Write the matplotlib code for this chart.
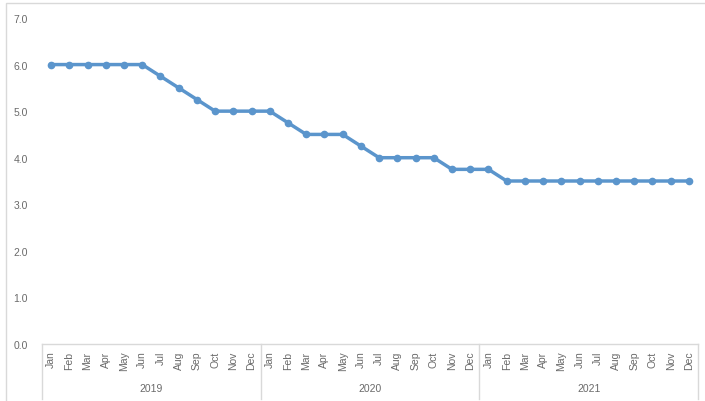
import matplotlib
matplotlib.use("Agg")
import matplotlib.pyplot as plt
import matplotlib.transforms as mtransforms

plt.rcParams['font.family'] = ['Liberation Sans', 'DejaVu Sans']

# data
years = ['2019', '2020', '2021']
months = ['Jan', 'Feb', 'Mar', 'Apr', 'May', 'Jun',
          'Jul', 'Aug', 'Sep', 'Oct', 'Nov', 'Dec']
rate_2019 = [6.0, 6.0, 6.0, 6.0, 6.0, 6.0, 5.75, 5.5, 5.25, 5.0, 5.0, 5.0]
rate_2020 = [5.0, 4.75, 4.5, 4.5, 4.5, 4.25, 4.0, 4.0, 4.0, 4.0, 3.75, 3.75]
rate_2021 = [3.75, 3.5, 3.5, 3.5, 3.5, 3.5, 3.5, 3.5, 3.5, 3.5, 3.5, 3.5]
y_ticks = [0, 1, 2, 3, 4, 5, 6, 7]

values = rate_2019 + rate_2020 + rate_2021
x = list(range(len(values)))

grey_txt = '#6a6a6a'
grey_ln = '#d9d9d9'
blue = '#5b95cc'

fig = plt.figure(figsize=(7.05, 4.02), dpi=100)
# outer chart frame
fig.patches.append(plt.Rectangle((6 / 705, -0.05), 1.2, 1.05 - 4 / 402,
                                 transform=fig.transFigure, fill=False,
                                 edgecolor=grey_ln, linewidth=1))

ax = fig.add_axes([42 / 705, 57 / 402, (698 - 42) / 705, (345 - 19) / 402])
ax.plot(x, values, color=blue, linewidth=2.5, marker='o', markersize=4.5,
        solid_joinstyle='round', zorder=3)

ax.set_xlim(-0.5, len(values) - 0.5)
ax.set_ylim(0, 7)
ax.set_yticks(y_ticks)
ax.set_yticklabels(['%.1f' % v for v in y_ticks], color=grey_txt, fontsize=7.5)
ax.tick_params(axis='y', length=0, pad=10)
ax.set_xticks([])
for s in ['top', 'right', 'left']:
    ax.spines[s].set_visible(False)
ax.spines['bottom'].set_color(grey_ln)
ax.spines['bottom'].set_linewidth(1)

trans = mtransforms.blended_transform_factory(ax.transData, ax.transAxes)
bottom = -(400 - 345) / 326
for i, m in enumerate(months * len(years)):
    ax.text(i, -0.02, m, rotation=90, ha='center', va='top',
            fontsize=7.5, color=grey_txt, transform=trans)

for k, yr in enumerate(years):
    ax.text(k * 12 + 5.5, -0.135, yr, ha='center', va='center',
            fontsize=7.5, color=grey_txt, transform=trans)
for k in range(len(years) + 1):
    xs = k * 12 - 0.5
    ax.plot([xs, xs], [0, bottom], color=grey_ln, linewidth=1,
            transform=trans, clip_on=False)

fig.savefig('out.png', dpi=100)
